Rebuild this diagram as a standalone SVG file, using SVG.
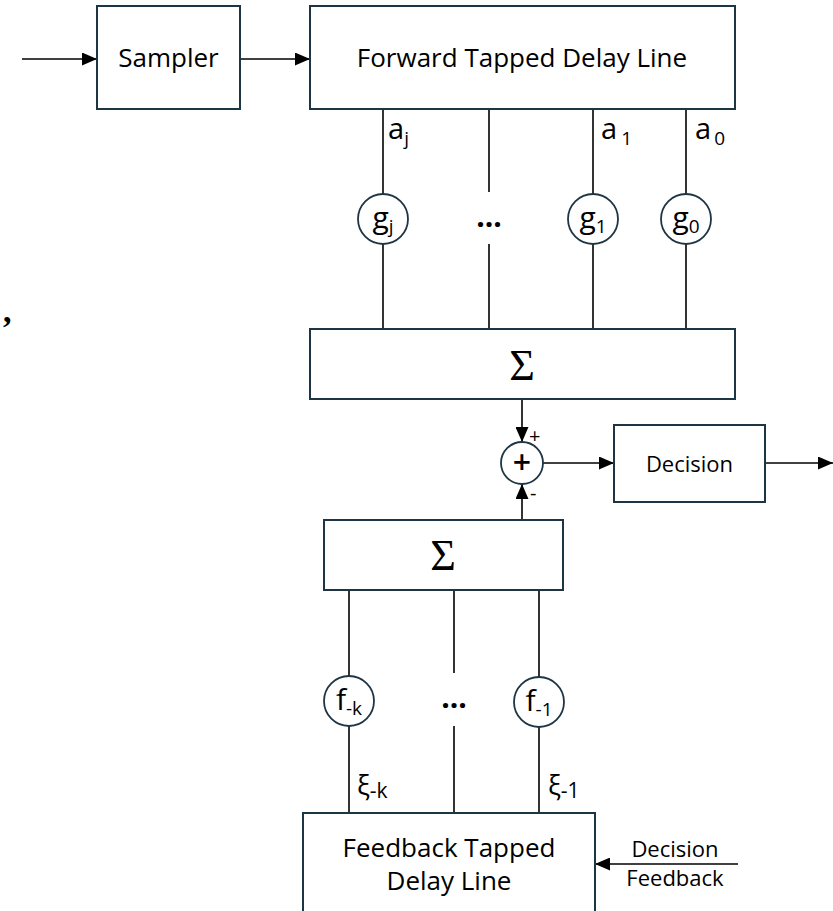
<svg xmlns="http://www.w3.org/2000/svg" width="833" height="911" viewBox="0 0 833 911">
<defs>
<marker id="arr" viewBox="0 0 15 13" refX="15" refY="6.5" markerWidth="15" markerHeight="13" markerUnits="userSpaceOnUse" orient="auto">
<path d="M0,0 L15,6.5 L0,13 z" fill="#000"/>
</marker>
<style>
.box{fill:#fff;stroke:#1e3545;stroke-width:2}
.circ{fill:#fff;stroke:#1e3545;stroke-width:1.8}
.ln{stroke:#000;stroke-width:1.6;fill:none}
.ar{stroke:#000;stroke-width:1.6;fill:none;marker-end:url(#arr)}
.t{font-family:"Open Sans","Liberation Sans",sans-serif;fill:#000}
.sig{font-family:"Liberation Serif","DejaVu Serif",serif;fill:#000;font-size:44px}
</style>
</defs>
<rect width="833" height="911" fill="#fff"/>

<g id="connectors">
<line class="ar" x1="22" y1="59" x2="97" y2="59"/>
<line class="ar" x1="240" y1="59" x2="310" y2="59"/>
<line class="ln" x1="383" y1="109" x2="383" y2="194"/>
<line class="ln" x1="383" y1="244" x2="383" y2="329"/>
<line class="ln" x1="489" y1="109" x2="489" y2="192"/>
<line class="ln" x1="489" y1="244" x2="489" y2="329"/>
<line class="ln" x1="593" y1="109" x2="593" y2="194"/>
<line class="ln" x1="593" y1="244" x2="593" y2="329"/>
<line class="ln" x1="686" y1="109" x2="686" y2="194"/>
<line class="ln" x1="686" y1="244" x2="686" y2="329"/>
<line class="ar" x1="522" y1="399" x2="522" y2="442"/>
<line class="ar" x1="522" y1="520" x2="522" y2="484"/>
<line class="ar" x1="543" y1="463" x2="614" y2="463"/>
<line class="ar" x1="765" y1="463" x2="833" y2="463"/>
<line class="ln" x1="349" y1="590" x2="349" y2="676"/>
<line class="ln" x1="349" y1="726" x2="349" y2="813"/>
<line class="ln" x1="454" y1="590" x2="454" y2="673"/>
<line class="ln" x1="454" y1="726" x2="454" y2="813"/>
<line class="ln" x1="539" y1="590" x2="539" y2="677"/>
<line class="ln" x1="539" y1="727" x2="539" y2="813"/>
<line class="ar" x1="738" y1="864" x2="595" y2="864"/>
</g>

<g id="sampler">
<rect class="box" x="97" y="6" width="143" height="103"/>
<text class="t" x="168.5" y="67" font-size="26" text-anchor="middle">Sampler</text>
</g>

<g id="forward-tdl">
<rect class="box" x="310" y="6" width="425" height="103"/>
<text class="t" x="522" y="67" font-size="26" text-anchor="middle">Forward Tapped Delay Line</text>
</g>

<g id="tap-labels">
<text class="t" x="388" y="139" font-size="29">a<tspan font-size="19" dy="6">j</tspan></text>
<text class="t" x="601" y="139" font-size="29">a<tspan font-size="19" dy="6" dx="4">1</tspan></text>
<text class="t" x="695" y="139" font-size="29">a<tspan font-size="19" dy="6" dx="3">0</tspan></text>
</g>

<g id="g-j">
<circle class="circ" cx="383" cy="219" r="25"/>
<text class="t" x="383" y="228" font-size="30" text-anchor="middle">g<tspan font-size="19" dy="5">j</tspan></text>
</g>
<g id="dots-forward">
<text class="t" x="489" y="227" font-size="30" font-weight="bold" text-anchor="middle">...</text>
</g>
<g id="g-1">
<circle class="circ" cx="593" cy="219" r="25"/>
<text class="t" x="593" y="228" font-size="30" text-anchor="middle">g<tspan font-size="19" dy="5">1</tspan></text>
</g>
<g id="g-0">
<circle class="circ" cx="686" cy="219" r="25"/>
<text class="t" x="686" y="228" font-size="30" text-anchor="middle">g<tspan font-size="19" dy="5">0</tspan></text>
</g>

<g id="sum-forward">
<rect class="box" x="310" y="329" width="425" height="70"/>
<text class="sig" x="522" y="380" text-anchor="middle">Σ</text>
</g>

<g id="adder">
<circle class="circ" cx="522" cy="463" r="21"/>
<text class="t" x="522" y="474" font-size="32" font-weight="600" text-anchor="middle">+</text>
<text class="t" x="529" y="443" font-size="20">+</text>
<text class="t" x="530" y="500" font-size="20">-</text>
</g>

<g id="decision">
<rect class="box" x="614" y="425" width="151" height="77"/>
<text class="t" x="689.5" y="472" font-size="22" text-anchor="middle">Decision</text>
</g>

<g id="sum-feedback">
<rect class="box" x="324" y="520" width="239" height="70"/>
<text class="sig" x="443" y="570" text-anchor="middle">Σ</text>
</g>

<g id="f-k">
<circle class="circ" cx="349" cy="701" r="25"/>
<text class="t" x="349" y="710" font-size="30" text-anchor="middle">f<tspan font-size="19" dy="5">-k</tspan></text>
</g>
<g id="dots-feedback">
<text class="t" x="454" y="708" font-size="30" font-weight="bold" text-anchor="middle">...</text>
</g>
<g id="f-1">
<circle class="circ" cx="539" cy="702" r="25"/>
<text class="t" x="539" y="711" font-size="30" text-anchor="middle">f<tspan font-size="19" dy="5">-1</tspan></text>
</g>

<g id="xi-labels">
<text class="t" x="357" y="795" font-size="27">ξ<tspan font-size="21" dy="3">-k</tspan></text>
<text class="t" x="548" y="795" font-size="27">ξ<tspan font-size="21" dy="3">-1</tspan></text>
</g>

<g id="feedback-tdl">
<rect class="box" x="303" y="813" width="292" height="130"/>
<text class="t" x="449" y="857" font-size="26" text-anchor="middle">Feedback Tapped</text>
<text class="t" x="449" y="890" font-size="26" text-anchor="middle">Delay Line</text>
</g>

<g id="decision-feedback-label">
<text class="t" x="675" y="857" font-size="22" text-anchor="middle">Decision</text>
<text class="t" x="675" y="886" font-size="22" text-anchor="middle">Feedback</text>
</g>

<g id="comma">
<text x="3" y="322" font-family="Liberation Serif, serif" font-size="34" font-weight="bold" fill="#000">,</text>
</g>
</svg>
